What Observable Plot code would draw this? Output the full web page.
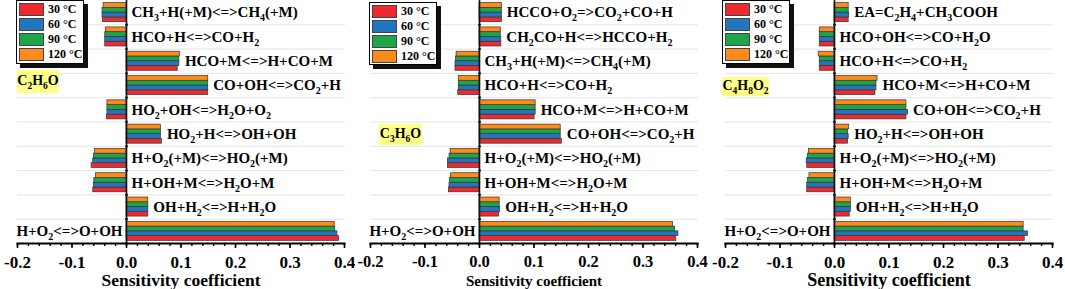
<!DOCTYPE html>
<html><head><meta charset="utf-8">
<script src="https://cdn.jsdelivr.net/npm/d3@7"></script>
<script src="https://cdn.jsdelivr.net/npm/@observablehq/plot@0.6"></script>
<style>
body{margin:0;background:#fff;}
#wrap{position:relative;width:1065px;height:289px;overflow:hidden;font-family:"Liberation Serif","DejaVu Serif",serif;font-weight:bold;}
.panel{position:absolute;top:0;}
.panel svg text{font-family:"Liberation Serif","DejaVu Serif",serif;}
.legend{position:absolute;background:#fff;border:1px solid #000;box-shadow:4px 4px 0 #111;}
.sw{position:absolute;left:2px;width:25px;height:12.5px;border:1px solid #444;box-sizing:border-box;}
.lt{position:absolute;left:31px;font-size:12px;line-height:12.5px;color:#000;white-space:nowrap;}
.chem{position:absolute;background:#ffff88;font-size:14px;line-height:14px;color:#000;text-align:center;box-sizing:border-box;white-space:nowrap;}
.chem sub{font-size:9.5px;vertical-align:sub;line-height:0;}
</style></head><body><div id="wrap"></div>
<script>
// ---------- data ----------
const temps = ["30 °C", "60 °C", "90 °C", "120 °C"];
const tempColors = ["#ee2a2e", "#2375bf", "#1ea54a", "#fb8b1c"];
const xTicks = [-0.2, -0.1, 0.0, 0.1, 0.2, 0.3, 0.4];

// Panel 1: C2H6O
const reactionsC2H6O = ["CH_3+H(+M)<=>CH_4(+M)", "HCO+H<=>CO+H_2", "HCO+M<=>H+CO+M", "CO+OH<=>CO_2+H",
  "HO_2+OH<=>H_2O+O_2", "HO_2+H<=>OH+OH", "H+O_2(+M)<=>HO_2(+M)", "H+OH+M<=>H_2O+M", "OH+H_2<=>H+H_2O", "H+O_2<=>O+OH"];
const c2h6o_30  = [-0.043, -0.039, 0.094, 0.150, -0.036, 0.065, -0.064, -0.061, 0.040, 0.390];
const c2h6o_60  = [-0.044, -0.039, 0.097, 0.150, -0.035, 0.063, -0.061, -0.060, 0.040, 0.387];
const c2h6o_90  = [-0.044, -0.039, 0.097, 0.150, -0.035, 0.063, -0.060, -0.059, 0.040, 0.383];
const c2h6o_120 = [-0.042, -0.038, 0.098, 0.150, -0.035, 0.063, -0.058, -0.056, 0.040, 0.382];

// Panel 2: C3H6O
const reactionsC3H6O = ["HCCO+O_2=>CO_2+CO+H", "CH_2CO+H<=>HCCO+H_2", "CH_3+H(+M)<=>CH_4(+M)", "HCO+H<=>CO+H_2",
  "HCO+M<=>H+CO+M", "CO+OH<=>CO_2+H", "H+O_2(+M)<=>HO_2(+M)", "H+OH+M<=>H_2O+M", "OH+H_2<=>H+H_2O", "H+O_2<=>O+OH"];
const c3h6o_30  = [0.041, 0.040, -0.044, -0.039, 0.101, 0.151, -0.058, -0.056, 0.036, 0.361];
const c3h6o_60  = [0.041, 0.040, -0.044, -0.038, 0.103, 0.149, -0.058, -0.055, 0.038, 0.365];
const c3h6o_90  = [0.041, 0.039, -0.043, -0.038, 0.103, 0.149, -0.055, -0.054, 0.037, 0.359];
const c3h6o_120 = [0.041, 0.039, -0.042, -0.038, 0.103, 0.149, -0.053, -0.052, 0.037, 0.355];

// Panel 3: C4H8O2
const reactionsC4H8O2 = ["EA=C_2H_4+CH_3COOH", "HCO+OH<=>CO+H_2O", "HCO+H<=>CO+H_2", "HCO+M<=>H+CO+M",
  "CO+OH<=>CO_2+H", "HO_2+H<=>OH+OH", "H+O_2(+M)<=>HO_2(+M)", "H+OH+M<=>H_2O+M", "OH+H_2<=>H+H_2O", "H+O_2<=>O+OH"];
const c4h8o2_30  = [0.026, -0.027, -0.027, 0.075, 0.132, 0.025, -0.050, -0.050, 0.028, 0.349];
const c4h8o2_60  = [0.027, -0.027, -0.027, 0.077, 0.135, 0.026, -0.051, -0.050, 0.030, 0.355];
const c4h8o2_90  = [0.026, -0.027, -0.027, 0.077, 0.132, 0.025, -0.049, -0.049, 0.030, 0.347];
const c4h8o2_120 = [0.026, -0.027, -0.029, 0.079, 0.132, 0.027, -0.047, -0.046, 0.030, 0.347];

// ---------- layout / styles ----------
const panels = [
  {reactions: reactionsC2H6O, series: [c2h6o_30, c2h6o_60, c2h6o_90, c2h6o_120], left: 0,
   tickSize: 17, titleSize: 17.5, legend: {l: 16, t: 0, h: 62}, chem: {html: "C<sub>2</sub>H<sub>6</sub>O", l: 17, t: 70, w: 42, h: 23}},
  {reactions: reactionsC3H6O, series: [c3h6o_30, c3h6o_60, c3h6o_90, c3h6o_120], left: 353,
   tickSize: 16.5, titleSize: 15, legend: {l: 369, t: 2, h: 61}, chem: {html: "C<sub>3</sub>H<sub>6</sub>O", l: 379, t: 124, w: 43, h: 21}},
  {reactions: reactionsC4H8O2, series: [c4h8o2_30, c4h8o2_60, c4h8o2_90, c4h8o2_120], left: 708,
   tickSize: 17, titleSize: 18, legend: {l: 722, t: 0, h: 62}, chem: {html: "C<sub>4</sub>H<sub>8</sub>O<sub>2</sub>", l: 722, t: 77, w: 47, h: 19}}
];

function subscriptify(svg) {
  const NS = "http://www.w3.org/2000/svg";
  svg.querySelectorAll("text").forEach(t => {
    const s = t.textContent;
    if (!s.includes("_")) return;
    while (t.firstChild) t.removeChild(t.firstChild);
    const parts = s.split(/_(\d)/);
    let shifted = false;
    parts.forEach((p, i) => {
      if (!p) return;
      const ts = document.createElementNS(NS, "tspan");
      ts.textContent = p;
      if (i % 2 === 1) {
        ts.setAttribute("font-size", 10);
        if (!shifted) ts.setAttribute("dy", 4);
        shifted = true;
      } else if (shifted) {
        ts.setAttribute("dy", -4);
        shifted = false;
      }
      t.appendChild(ts);
    });
  });
}

const wrap = document.getElementById("wrap");
const tempOrderTopDown = temps.slice().reverse();

panels.forEach(P => {
  const rows = P.reactions.flatMap((r, i) => temps.map((t, k) => ({reaction: r, temp: t, value: P.series[k][i]})));
  const labels = P.reactions.map((r, i) => {
    const mx = d3.max(P.series, s => s[i]);
    return {reaction: r, label: r, x: Math.max(mx, 0), left: mx > 0.3};
  });

  const chart = Plot.plot({
    width: 355, height: 289,
    marginLeft: 17, marginRight: 11, marginTop: 0, marginBottom: 46,
    style: {fontFamily: "Liberation Serif, DejaVu Serif, serif", fontWeight: "bold", background: "transparent", color: "#000"},
    x: {domain: [-0.2, 0.4]},
    y: {domain: tempOrderTopDown, paddingInner: 0, paddingOuter: 0.55, round: false, axis: null},
    fy: {domain: P.reactions, padding: 0, round: false, axis: null},
    color: {domain: temps, range: tempColors},
    marks: [
      Plot.frame({anchor: "bottom", stroke: "#e4e4e4", strokeWidth: 1}),
      Plot.barX(rows, {fy: "reaction", y: "temp", x: "value", fill: "temp", stroke: "#333", strokeWidth: 0.7}),
      Plot.ruleX([0], {stroke: "#111", strokeWidth: 1.6}),
      Plot.dot([0], {x: d => d, frameAnchor: "bottom", r: 1.4, fill: "#111", stroke: null}),
      Plot.text(labels.filter(d => !d.left), {fy: "reaction", x: "x", text: "label", textAnchor: "start", dx: 5, fontSize: 15, fontWeight: "bold", fill: "#000"}),
      Plot.text(labels.filter(d => d.left), {fy: "reaction", x: 0, text: "label", textAnchor: "end", dx: -4, fontSize: 15, fontWeight: "bold", fill: "#000"}),
      Plot.frame({anchor: "bottom", facetAnchor: "bottom", stroke: "#000", strokeWidth: 2}),
      Plot.axisX(d3.ticks(-0.2, 0.4, 30), {tickSize: 3, tickFormat: () => "", label: null, strokeWidth: 1.4}),
      Plot.axisX(xTicks, {tickSize: 5, tickPadding: 7, strokeWidth: 1.6, tickFormat: d => d.toFixed(1),
        fontSize: P.tickSize, fontWeight: "bold", fill: "#000",
        label: "Sensitivity coefficient", labelAnchor: "center", labelArrow: "none", labelOffset: 42})
    ]
  });
  const div = document.createElement("div");
  div.className = "panel";
  div.style.left = P.left + "px";
  div.appendChild(chart);
  wrap.appendChild(div);
  subscriptify(chart);
  chart.querySelectorAll("text").forEach(t => {
    if (t.textContent === "Sensitivity coefficient") t.setAttribute("font-size", P.titleSize);
  });

  // legend (HTML overlay)
  const lg = document.createElement("div");
  lg.className = "legend";
  Object.assign(lg.style, {left: P.legend.l + "px", top: P.legend.t + "px", width: "66px", height: P.legend.h + "px"});
  temps.forEach((t, k) => {
    const sw = document.createElement("div");
    sw.className = "sw";
    sw.style.top = (2 + 15 * k) + "px";
    sw.style.background = tempColors[k];
    lg.appendChild(sw);
    const lt = document.createElement("div");
    lt.className = "lt";
    lt.style.top = (2 + 15 * k) + "px";
    lt.textContent = t;
    lg.appendChild(lt);
  });
  wrap.appendChild(lg);

  // compound tag
  const ch = document.createElement("div");
  ch.className = "chem";
  Object.assign(ch.style, {left: P.chem.l + "px", top: P.chem.t + "px", width: P.chem.w + "px", height: P.chem.h + "px", paddingTop: Math.round((P.chem.h - 16) / 2) + "px"});
  ch.innerHTML = P.chem.html;
  wrap.appendChild(ch);
});
</script></body></html>
